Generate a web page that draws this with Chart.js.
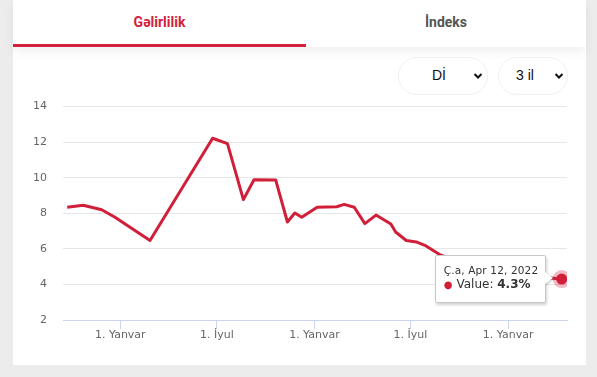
<!DOCTYPE html>
<html>
<head>
<meta charset="utf-8">
<script src="https://cdn.jsdelivr.net/npm/chart.js@4"></script>
<style>
  html,body{margin:0;padding:0;}
  body{width:597px;height:377px;background:#ececec;position:relative;overflow:hidden;font-family:Roboto,"Noto Sans",sans-serif;}
  #card{position:absolute;left:13px;top:0;width:573px;height:365px;background:#fff;}
  #tabs{position:absolute;left:13px;top:0;width:573px;height:47px;background:#fff;box-shadow:0 5px 10px rgba(0,0,0,0.06);z-index:2;}
  .tab{position:absolute;top:0;height:44px;line-height:44px;text-align:center;font-weight:700;font-size:14px;}
  #t1{left:0;width:293px;color:#d4213d;border-bottom:3px solid #d4213d;}
  #t2{left:293px;width:280px;color:#555;}
  .sel{position:absolute;top:57px;height:36px;border:1px solid #f0f0f0;border-radius:19px;background:#fff;font-family:"Liberation Sans",Arial,sans-serif;font-size:14px;color:#111;z-index:3;}
  .sel span{position:absolute;top:9px;}
  .sel svg{position:absolute;top:14px;}
  #s1{left:398px;width:88px;}
  #s2{left:498px;width:68px;}
  #wrap{position:absolute;left:12px;top:84px;width:573px;height:276px;z-index:1;}
  #tip{position:absolute;background:#fff;border:1px solid #c8c8c8;border-radius:2px;box-shadow:1px 2px 3px rgba(0,0,0,0.18);font-family:"DejaVu Sans",Verdana,sans-serif;color:#333;z-index:4;width:109px;height:46px;}
  #tip .h{position:absolute;left:8px;top:8px;font-size:10.5px;letter-spacing:0.15px;white-space:nowrap;}
  #tip .b{position:absolute;left:8px;top:21px;font-size:12px;white-space:nowrap;}
  #tip .dot{color:#d11f3a;font-size:10px;margin-right:4px;}
  #arrow{position:absolute;width:0;height:0;border-top:6px solid transparent;border-bottom:6px solid transparent;border-left:8px solid #fff;z-index:5;filter:drop-shadow(1px 1px 1px rgba(0,0,0,0.2));}
</style>
</head>
<body>
<div id="card"></div>
<div id="tabs">
  <div class="tab" id="t1">Gəlirlilik</div>
  <div class="tab" id="t2">İndeks</div>
</div>
<div class="sel" id="s1"><span style="left:33px">Dİ</span><svg width="10" height="8" viewBox="0 0 10 8" style="left:74px"><polyline points="1.5,2 5,5.5 8.5,2" fill="none" stroke="#111" stroke-width="2"/></svg></div>
<div class="sel" id="s2"><span style="left:17px">3 il</span><svg width="10" height="8" viewBox="0 0 10 8" style="left:55px"><polyline points="1.5,2 5,5.5 8.5,2" fill="none" stroke="#111" stroke-width="2"/></svg></div>
<div id="wrap"><canvas id="c" width="573" height="276"></canvas></div>
<div id="tip"><div class="h">Ç.a, Apr 12, 2022</div><div class="b"><span class="dot">●</span>Value: <b>4.3%</b></div></div>
<div id="arrow"></div>
<script>
const dates = ["2019-09-23","2019-10-23","2019-11-27","2019-12-22","2020-02-26","2020-06-23","2020-07-21","2020-08-20","2020-09-09","2020-10-20","2020-11-11","2020-11-25","2020-12-08","2021-01-06","2021-02-12","2021-02-26","2021-03-17","2021-04-06","2021-04-27","2021-05-25","2021-06-03","2021-06-23","2021-07-12","2021-07-28","2021-08-25","2021-09-29","2021-11-03","2021-12-15","2022-02-16","2022-04-12"];
const values = [8.34,8.45,8.2,7.78,6.47,12.22,11.92,8.77,9.89,9.87,7.51,8.02,7.78,8.34,8.37,8.5,8.34,7.42,7.9,7.4,6.95,6.47,6.39,6.2,5.68,5.3,5.0,4.7,4.45,4.3];
const tickDates = ["2020-01-01","2020-07-01","2021-01-01","2021-07-01","2022-01-01"];
const tickLabels = ["1. Yanvar","1. İyul","1. Yanvar","1. İyul","1. Yanvar"];
const axisRange = ["2019-09-15","2022-04-22"];
const yTicks = [2,4,6,8,10,12,14];

const ts = d => Date.parse(d + "T00:00:00Z");
const points = dates.map((d,i)=>({x:ts(d), y:values[i]}));
const last = points.length - 1;
const RED = "#d11f3a";

Chart.defaults.font.family = "'DejaVu Sans', Verdana, sans-serif";
Chart.defaults.font.size = 11;
Chart.defaults.color = "#666";

const tipPlugin = {
  id:'tipPos',
  afterRender(chart){
    const el = chart.getDatasetMeta(1).data[last];
    if(!el) return;
    const wrap = document.getElementById('wrap');
    const px = wrap.offsetLeft + el.x, py = wrap.offsetTop + el.y;
    const tip = document.getElementById('tip');
    tip.style.left = (px - 127) + 'px';
    tip.style.top = (py - 24) + 'px';
    const ar = document.getElementById('arrow');
    ar.style.left = (px - 17) + 'px';
    ar.style.top = (py - 7) + 'px';
  }
};

new Chart(document.getElementById('c'), {
  type:'line',
  data:{
    datasets:[
      {data:[points[last]], showLine:false, pointRadius:9, pointBackgroundColor:'rgba(211,31,58,0.3)', pointBorderWidth:0, order:3},
      {data:points, borderColor:RED, borderWidth:3, borderJoinStyle:'round', tension:0, fill:false,
       pointRadius:ctx=>ctx.dataIndex===last?5.5:0, pointBackgroundColor:RED, pointBorderWidth:0, order:1}
    ]
  },
  options:{
    responsive:false, animation:false, events:[],
    layout:{padding:{top:0, right:18, left:0, bottom:0}},
    plugins:{legend:{display:false}, tooltip:{enabled:false}},
    scales:{
      x:{type:'linear', min:ts(axisRange[0]), max:ts(axisRange[1]),
        afterBuildTicks:s=>{s.ticks = tickDates.map(d=>({value:ts(d)}));},
        afterFit:s=>{s.height = 40;},
        ticks:{autoSkip:false, maxRotation:0, padding:0, callback:(v,i)=>tickLabels[i]},
        grid:{drawOnChartArea:false, drawTicks:true, tickLength:9, tickColor:'#ccd6eb'},
        border:{display:true, color:'#ccd6eb', width:1}
      },
      y:{min:yTicks[0], max:yTicks[yTicks.length-1],
        afterBuildTicks:s=>{s.ticks = yTicks.map(v=>({value:v}));},
        afterFit:s=>{s.width = 51;},
        ticks:{padding:16},
        grid:{color:'#e6e6e6', drawTicks:false},
        border:{display:false}
      }
    }
  },
  plugins:[tipPlugin]
});
</script>
</body>
</html>
